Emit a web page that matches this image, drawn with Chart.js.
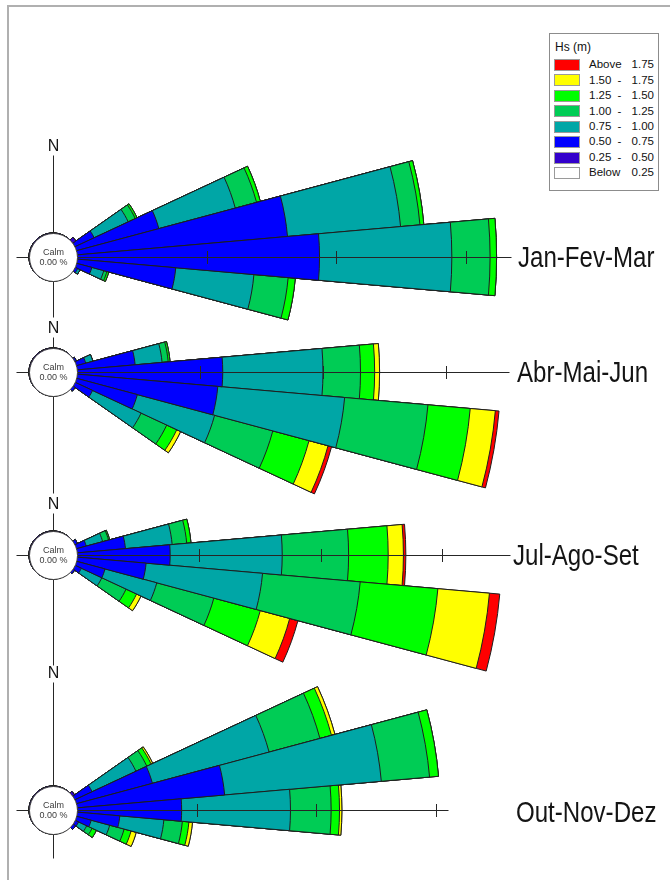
<!DOCTYPE html>
<html lang="pt">
<head>
<meta charset="utf-8">
<title>Hs (m) - rosas de ondas sazonais</title>
<script src="https://cdn.jsdelivr.net/npm/chart.js@4.4.1/dist/chart.umd.min.js"></script>
<style>
  html, body { margin: 0; padding: 0; background: #fff; }
  body { position: relative; width: 670px; height: 880px; overflow: hidden; font-family: "Liberation Sans", Arial, sans-serif; }
  #frame { position: absolute; left: 7px; top: 5px; width: 720px; height: 920px; border-left: 2px solid #b0b0b0; border-top: 2px solid #b0b0b0; }
  #roses { position: absolute; left: 0; top: 0; width: 670px; height: 880px; }
  canvas.rose { position: absolute; }
  .season { position: absolute; font-size: 29px; line-height: 29px; color: #141414; white-space: nowrap; transform: scaleX(0.83); transform-origin: 0 50%; }
  #legend { position: absolute; left: 549px; top: 33px; width: 108px; height: 156px; border: 1px solid #8c8c8c; background: #fff; }
  #legend .title { position: absolute; left: 5px; font-size: 12px; line-height: 12px; color: #111; white-space: nowrap; }
  #legend .sw { position: absolute; left: 4px; width: 24px; height: 10px; border: 1px solid #9a9a9a; }
  #legend .t { position: absolute; font-size: 11.5px; line-height: 11.5px; color: #111; white-space: nowrap; }
</style>
</head>
<body>
<div id="frame"></div>
<div id="roses"></div>
<div id="labels"></div>
<div id="legend"></div>
<script>
// Direction sectors (degrees, 10-degree bins centred on each bearing)
const directionLabels = [0, 10, 20, 30, 40, 50, 60, 70, 80, 90, 100, 110, 120, 130, 140, 150, 160, 170,
                         180, 190, 200, 210, 220, 230, 240, 250, 260, 270, 280, 290, 300, 310, 320, 330, 340, 350];
// Bearings that carry waves in any season
const sectorBearings = [50, 60, 70, 80, 90, 100, 110, 120, 130];

// Hs classes, from lowest to highest
const hsClasses = ['Below 0.25', '0.25 - 0.50', '0.50 - 0.75', '0.75 - 1.00', '1.00 - 1.25', '1.25 - 1.50', '1.50 - 1.75', 'Above 1.75'];
const hsColors  = ['#ffffff', '#3300cc', '#0000ff', '#00a6a6', '#00cc55', '#00ff00', '#ffff00', '#ff0000'];

const seasons = ['Jan-Fev-Mar', 'Abr-Mai-Jun', 'Jul-Ago-Set', 'Out-Nov-Dez'];
const calmPercent = [0, 0, 0, 0];
const radialTicks = [10, 20, 30];   // % of occurrence

// Occurrence (%) - rows: Hs class 0.25-0.50 ... Above 1.75; columns: sectorBearings
const freqJanFevMar = [
  [0.3, 0,    0,   0,     0,    0,    0,    0,    0],
  [0,   1.65, 6.6, 16.3,  18.7, 7.65, 1.25, 0.25, 0],
  [0,   2.9,  6.1, 8.75,  10.2, 6.05, 0.95, 0.2,  0],
  [0,   0.6,  1.7, 1.5,   2.95, 2.65, 0.25, 0,    0],
  [0,   0.15, 0.3, 0.3,   0.5,  0.55, 0.15, 0,    0],
  [0,   0,    0,   0,     0,    0,    0,    0,    0],
  [0,   0,    0,   0,     0,    0,    0,    0,    0]
];
const freqAbrMaiJun = [
  [0, 0,    0,   0,    0,     0,     0,    0,    0],
  [0, 0.15, 0.8, 4.75, 11.85, 11.5,  5.15, 1.6,  0.25],
  [0, 0,    0.6, 2.2,  8.15,  10.35, 6.5,  4.35, 0],
  [0, 0,    0,   0.5,  3.05,  6.8,   4.9,  2.3,  0],
  [0, 0,    0,   0.15, 1.15,  3.45,  3.05, 0.9,  0],
  [0, 0,    0,   0,    0.4,   2.05,  1.6,  0.35, 0],
  [0, 0,    0,   0,    0,     0.3,   0.3,  0,    0]
];
const freqJulAgoSet = [
  [0, 0,    0,    0,    0,    0,    0,    0,    0],
  [0, 0.25, 0.85, 4.0,  7.65, 5.7,  2.45, 0.6,  0.2],
  [0, 0,    1.4,  3.85, 9.2,  9.6,  4.4,  1.85, 0],
  [0, 0,    0.5,  1.2,  5.45, 8.05, 4.85, 2.2,  0],
  [0, 0,    0.1,  0.35, 3.25, 6.4,  3.95, 0.95, 0],
  [0, 0,    0,    0,    1.25, 4.25, 2.5,  0.4,  0],
  [0, 0,    0,    0,    0.2,  0.85, 0.7,  0,    0]
];
const freqOutNovDez = [
  [0.2, 0,    0,    0,     0,    0,    0,    0,    0],
  [0,   1.6,  6.6,  12.4,  8.75, 3.6,  1.3,  0.35, 0.3],
  [0,   4.05, 10.1, 13.15, 9.1,  3.7,  1.6,  0.75, 0],
  [0,   1.0,  4.4,  4.05,  3.4,  1.55, 1.25, 0.5,  0],
  [0,   0.4,  1.0,  0.75,  0.7,  0.55, 0.6,  0.4,  0],
  [0,   0.15, 0.3,  0,     0.2,  0.3,  0.45, 0,    0],
  [0,   0,    0,    0,     0,    0,    0,    0,    0]
];
const seasonTables = [freqJanFevMar, freqAbrMaiJun, freqJulAgoSet, freqOutNovDez];

// Page placement of each rose (centre, radial scale in px per %, axis reach in px)
const CANVAS = 1000;
const CENTER_X = 53;
const CALM_R = 24;
const roseLayout = [
  { cy: 257, pxPerPct: 12.97, north: 102, south: 60,  east: 458, labelX: 518, labelY: 257 },
  { cy: 372, pxPerPct: 12.30, north: 35,  south: 121, east: 456, labelX: 517, labelY: 372 },
  { cy: 555, pxPerPct: 12.18, north: 42,  south: 110, east: 457, labelX: 513, labelY: 555 },
  { cy: 810, pxPerPct: 11.96, north: 128, south: 48,  east: 395, labelX: 516, labelY: 812 }
];

Chart.defaults.font.family = '"Liberation Sans", Arial, sans-serif';

// Axes, tick marks, calm circle and north label drawn on top of the sectors
const roseAxes = {
  id: 'roseAxes',
  afterDatasetsDraw(chart, _args, o) {
    const s = chart.scales.r;
    const ctx = chart.ctx;
    const cx = s.xCenter, cy = s.yCenter;
    const x = cx + 0.5, y = cy + 0.5;
    ctx.save();
    ctx.lineWidth = 1;
    ctx.strokeStyle = '#262626';
    ctx.beginPath();
    ctx.moveTo(x, y - o.north); ctx.lineTo(x, y + o.south);
    ctx.moveTo(x - o.west, y);  ctx.lineTo(x + o.east, y);
    o.ticks.forEach(v => {
      const d = Math.round(s.getDistanceFromCenterForValue(v));
      ctx.moveTo(x + d, y - 6.5); ctx.lineTo(x + d, y + 6.5);
    });
    ctx.stroke();

    ctx.beginPath();
    ctx.arc(cx + 0.5, cy + 0.5, o.calmRadius, 0, Math.PI * 2);
    ctx.fillStyle = '#ffffff';
    ctx.fill();
    ctx.strokeStyle = '#3a3a3a';
    ctx.stroke();

    ctx.fillStyle = '#3c3c3c';
    ctx.textAlign = 'center';
    ctx.textBaseline = 'alphabetic';
    ctx.font = '9px "Liberation Sans", Arial, sans-serif';
    ctx.fillText('Calm', x, cy - 2);
    ctx.fillText(o.calm.toFixed(2) + ' %', x, cy + 8);

    ctx.fillStyle = '#161616';
    ctx.font = '16px "Liberation Sans", Arial, sans-serif';
    ctx.fillText('N', x, cy - o.north - 9.5 + 5.7);
    ctx.restore();
  }
};

// Cumulative rings: dataset 0 is the innermost class and is painted last
function stackedRings(table) {
  const running = directionLabels.map(() => 0);
  return table.map((row, c) => {
    row.forEach((v, j) => { running[directionLabels.indexOf(sectorBearings[j])] += v; });
    return {
      label: hsClasses[c + 1],
      data: running.slice(),
      backgroundColor: hsColors[c + 1],
      borderColor: '#1e1e1e',
      borderWidth: 1
    };
  });
}

const host = document.getElementById('roses');
seasons.forEach((name, i) => {
  const lay = roseLayout[i];
  const canvas = document.createElement('canvas');
  canvas.className = 'rose';
  canvas.width = CANVAS; canvas.height = CANVAS;
  canvas.style.width = CANVAS + 'px'; canvas.style.height = CANVAS + 'px';
  canvas.style.left = (CENTER_X - CANVAS / 2) + 'px';
  canvas.style.top = (lay.cy - CANVAS / 2) + 'px';
  host.appendChild(canvas);

  const half = CANVAS / 2;
  const rMin = -CALM_R / lay.pxPerPct;
  const rMax = (half - CALM_R) / lay.pxPerPct;

  new Chart(canvas, {
    type: 'polarArea',
    data: { labels: directionLabels.map(String), datasets: stackedRings(seasonTables[i]) },
    options: {
      responsive: false,
      animation: false,
      events: [],
      devicePixelRatio: 1,
      layout: { padding: 0 },
      scales: {
        r: {
          min: rMin, max: rMax,
          startAngle: -5,
          grid: { display: false },
          angleLines: { display: false },
          pointLabels: { display: false },
          ticks: { display: false }
        }
      },
      plugins: {
        legend: { display: false },
        tooltip: { enabled: false },
        roseAxes: { north: lay.north, south: lay.south, east: lay.east, west: 37, ticks: radialTicks, calmRadius: CALM_R, calm: calmPercent[i] }
      }
    },
    plugins: [roseAxes]
  });

  const lbl = document.createElement('div');
  lbl.className = 'season';
  lbl.textContent = name;
  lbl.style.left = lay.labelX + 'px';
  lbl.style.top = (lay.labelY - 14.1) + 'px';
  document.getElementById('labels').appendChild(lbl);
});

// Legend: highest class first
const legend = document.getElementById('legend');
const title = document.createElement('div');
title.className = 'title';
title.textContent = 'Hs (m)';
title.style.top = '6.8px';
legend.appendChild(title);
const rowTop0 = 64.8 - 34, rowStep = 15.45;
hsClasses.slice().reverse().forEach((cls, r) => {
  const yc = rowTop0 + r * rowStep;
  const sw = document.createElement('div');
  sw.className = 'sw';
  sw.style.top = (yc - 6) + 'px';
  sw.style.background = hsColors[hsClasses.length - 1 - r];
  legend.appendChild(sw);
  const parts = cls.split(' ');
  const first = document.createElement('div');
  first.className = 't';
  first.textContent = parts[0];
  first.style.left = '39px';
  first.style.top = (yc - 5.6) + 'px';
  legend.appendChild(first);
  if (parts.length === 3) {
    const dash = document.createElement('div');
    dash.className = 't';
    dash.textContent = parts[1];
    dash.style.left = '67.5px';
    dash.style.top = (yc - 5.6) + 'px';
    legend.appendChild(dash);
  }
  const last = document.createElement('div');
  last.className = 't';
  last.textContent = parts[parts.length - 1];
  last.style.right = '4px';
  last.style.top = (yc - 5.6) + 'px';
  legend.appendChild(last);
});
</script>
</body>
</html>
